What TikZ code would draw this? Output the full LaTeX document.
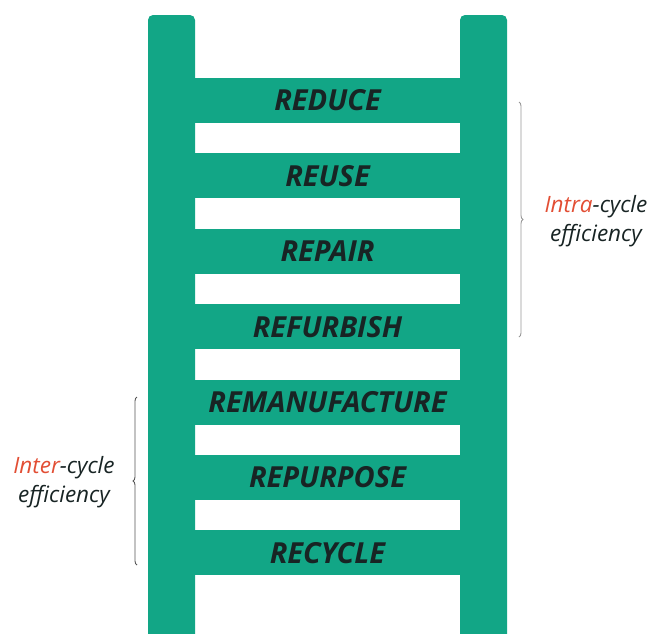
\documentclass[tikz,border=0pt]{standalone}
\usepackage{fontspec}
\setmainfont{Open Sans}
\usetikzlibrary{decorations.pathreplacing}

\definecolor{laddergreen}{RGB}{18,166,134}
\definecolor{rungtext}{RGB}{24,36,36}
\definecolor{accentred}{RGB}{226,78,52}
\definecolor{bracegray}{RGB}{150,150,150}
\definecolor{bracedark}{RGB}{85,85,85}

\begin{document}
\begin{tikzpicture}[x=1pt,y=-1pt,
    rung/.style={fill=laddergreen,minimum width=265pt,minimum height=45pt,inner sep=0pt,
      text=rungtext,font=\fontsize{29}{32}\selectfont\bfseries\itshape},
    cyclelabel/.style={align=center,text=rungtext,font=\fontsize{22.5}{29}\selectfont\itshape},
    bracket/.style={decorate,decoration={brace,amplitude=4pt},line width=0.9pt}]
    \useasboundingbox (0,0) rectangle (651,633);

    % Rails
    \fill[laddergreen,rounded corners=5pt] (148,15) rectangle (195,660);
    \fill[laddergreen,rounded corners=5pt] (460,15) rectangle (507,660);

    % Rungs, top to bottom
    \foreach \name/\word [count=\i from 0] in {reduce/REDUCE,reuse/REUSE,repair/REPAIR,
        refurbish/REFURBISH,remanufacture/REMANUFACTURE,repurpose/REPURPOSE,recycle/RECYCLE}
      \node[rung] (\name) at (327.5,100.5+75.4*\i) {\word};

    % Brackets
    \coordinate (intratop) at (519,102);
    \coordinate (intrabot) at (519,337);
    \coordinate (intertop) at (137,397);
    \coordinate (interbot) at (137,565);
    \draw[bracket,bracegray] (intratop) -- (intrabot);
    \draw[bracket,bracedark] (interbot) -- (intertop);

    % Bracket labels
    \node[cyclelabel] (intra) at (596,221) {{\color{accentred}Intra}-cycle\\efficiency};
    \node[cyclelabel] (inter) at (64,482) {{\color{accentred}Inter}-cycle\\efficiency};

\end{tikzpicture}
\end{document}
